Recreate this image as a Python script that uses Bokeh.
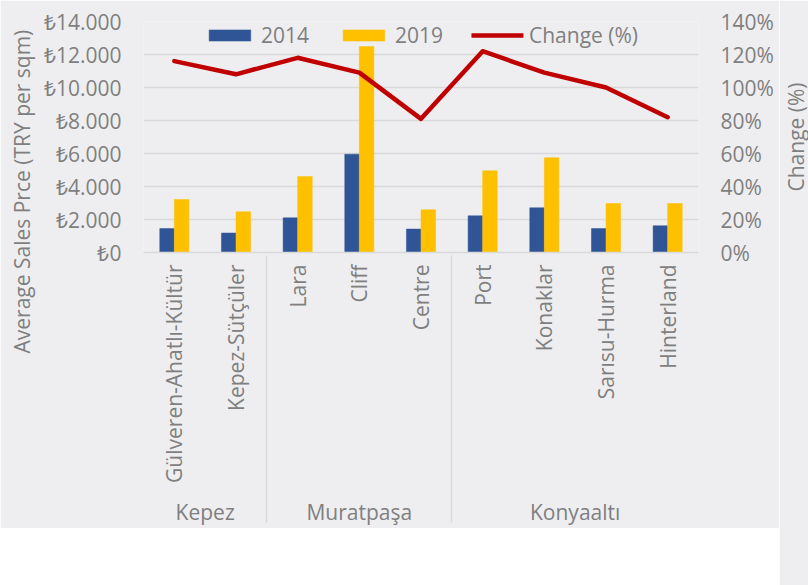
import math
from bokeh.plotting import figure
from bokeh.layouts import row
from bokeh.models import (FactorRange, Range1d, LinearAxis, Legend, LegendItem, Title,
                          FixedTicker, ColumnDataSource)
from bokeh.transform import dodge
from bokeh.embed import file_html
from bokeh.resources import INLINE

# ---- data ----
districts = ["Kepez", "Kepez", "Muratpaşa", "Muratpaşa", "Muratpaşa",
             "Konyaaltı", "Konyaaltı", "Konyaaltı", "Konyaaltı"]
neighbourhoods = ["Gülveren-Ahatlı-Kültür", "Kepez-Sütçüler", "Lara", "Cliff", "Centre",
                  "Port", "Konaklar", "Sarısu-Hurma", "Hinterland"]
price_2014 = [1450, 1180, 2100, 5960, 1420, 2220, 2710, 1450, 1620]
price_2019 = [3210, 2470, 4600, 12480, 2590, 4950, 5740, 2970, 2970]
change_pct = [116, 108, 118, 109, 81, 122, 109, 100, 82]

price_ticks = [0, 2000, 4000, 6000, 8000, 10000, 12000, 14000]
price_tick_labels = ["₺0", "₺2.000", "₺4.000", "₺6.000", "₺8.000", "₺10.000", "₺12.000", "₺14.000"]
pct_ticks = [0, 20, 40, 60, 80, 100, 120, 140]
pct_tick_labels = ["0%", "20%", "40%", "60%", "80%", "100%", "120%", "140%"]

FONT = "Open Sans"
FS = "21px"
TXT = "#7f7f7f"
BG = "#eeeef0"
GRID = "#d9d9d9"

factors = list(zip(districts, neighbourhoods))
src = ColumnDataSource(dict(x=factors, p14=price_2014, p19=price_2019, chg=change_pct))

p = figure(frame_width=555, frame_height=231, output_backend="svg", toolbar_location=None,
           x_range=FactorRange(*factors, group_padding=0, factor_padding=0, range_padding=0),
           y_range=Range1d(0, 14000),
           min_border_left=142, min_border_right=81, min_border_top=21, min_border_bottom=0)
p.extra_y_ranges = {"pct": Range1d(0, 140)}

p.background_fill_color = BG
p.border_fill_color = BG
p.outline_line_color = None
p.xgrid.grid_line_color = None
p.ygrid.grid_line_color = GRID
p.ygrid.grid_line_width = 1.5
p.ygrid.ticker = FixedTicker(ticks=price_ticks)

b14 = p.vbar(x=dodge("x", -0.118, range=p.x_range), top="p14", width=0.236, source=src,
             fill_color="#2f5597", line_color="#2f5597", line_width=0.5)
b19 = p.vbar(x=dodge("x", 0.118, range=p.x_range), top="p19", width=0.236, source=src,
             fill_color="#ffc000", line_color="#ffc000", line_width=0.5)
ln = p.line(x="x", y="chg", y_range_name="pct", source=src, line_color="#c00000",
            line_width=4.5, line_join="round", line_cap="round")

# left axis
ya = p.yaxis[0]
ya.ticker = FixedTicker(ticks=price_ticks)
ya.major_label_overrides = {t: l for t, l in zip(price_ticks, price_tick_labels)}
ya.axis_line_color = None
ya.major_tick_line_color = None
ya.minor_tick_line_color = None
ya.major_tick_out = 0
ya.major_tick_in = 0
ya.major_label_standoff = 22
ya.major_label_text_font = FONT
ya.major_label_text_font_size = FS
ya.major_label_text_color = TXT

# right axis
ra = LinearAxis(y_range_name="pct", ticker=FixedTicker(ticks=pct_ticks))
ra.major_label_overrides = {t: l for t, l in zip(pct_ticks, pct_tick_labels)}
ra.axis_line_color = None
ra.major_tick_line_color = None
ra.minor_tick_line_color = None
ra.major_tick_out = 0
ra.major_tick_in = 0
ra.major_label_standoff = 22
ra.major_label_text_font = FONT
ra.major_label_text_font_size = FS
ra.major_label_text_color = TXT
p.add_layout(ra, "right")

# x axis
xa = p.xaxis[0]
xa.major_label_orientation = math.pi / 2
xa.group_label_orientation = "horizontal"
xa.major_label_text_font = FONT
xa.major_label_text_font_size = FS
xa.major_label_text_color = TXT
xa.group_text_font = FONT
xa.group_text_font_size = FS
xa.group_text_font_style = "normal"
xa.group_text_color = TXT
xa.major_label_standoff = 12
xa.axis_line_color = GRID
xa.axis_line_width = 1.5
xa.major_tick_line_color = None
xa.major_tick_out = 0
xa.separator_line_color = GRID
xa.separator_line_width = 1.5

# left axis title
lt = Title(text="Average Sales Prce (TRY per sqm)", align="left", offset=-101,
           text_font=FONT, text_font_size=FS, text_font_style="normal", text_color=TXT)
p.add_layout(lt, "left")

# legend (kept inside the plot area's free top band so it is always drawn)
legend = Legend(items=[LegendItem(label="2014", renderers=[b14]),
                       LegendItem(label="2019", renderers=[b19]),
                       LegendItem(label="Change (%)", renderers=[ln])],
                orientation="horizontal", location="top_center",
                glyph_width=52, glyph_height=14, label_standoff=6, spacing=28,
                padding=0, margin=0,
                label_text_font=FONT, label_text_font_size=FS, label_text_color=TXT,
                background_fill_alpha=0, border_line_color=None)
p.add_layout(legend, "center")

# narrow companion figure carrying the right-hand axis title (reads bottom to top)
p2 = figure(frame_width=1, frame_height=231, output_backend="svg", toolbar_location=None,
            min_border_left=0, min_border_right=0, min_border_top=21, min_border_bottom=400)
p2.axis.visible = False
p2.grid.visible = False
p2.outline_line_color = None
p2.background_fill_color = BG
p2.border_fill_color = BG
rt = Title(text="Change (%)", align="center", standoff=0,
           text_font=FONT, text_font_size=FS, text_font_style="normal", text_color=TXT)
p2.add_layout(rt, "left")

layout = row(p, p2, spacing=0)
open("out.html", "w").write(file_html(layout, INLINE))
